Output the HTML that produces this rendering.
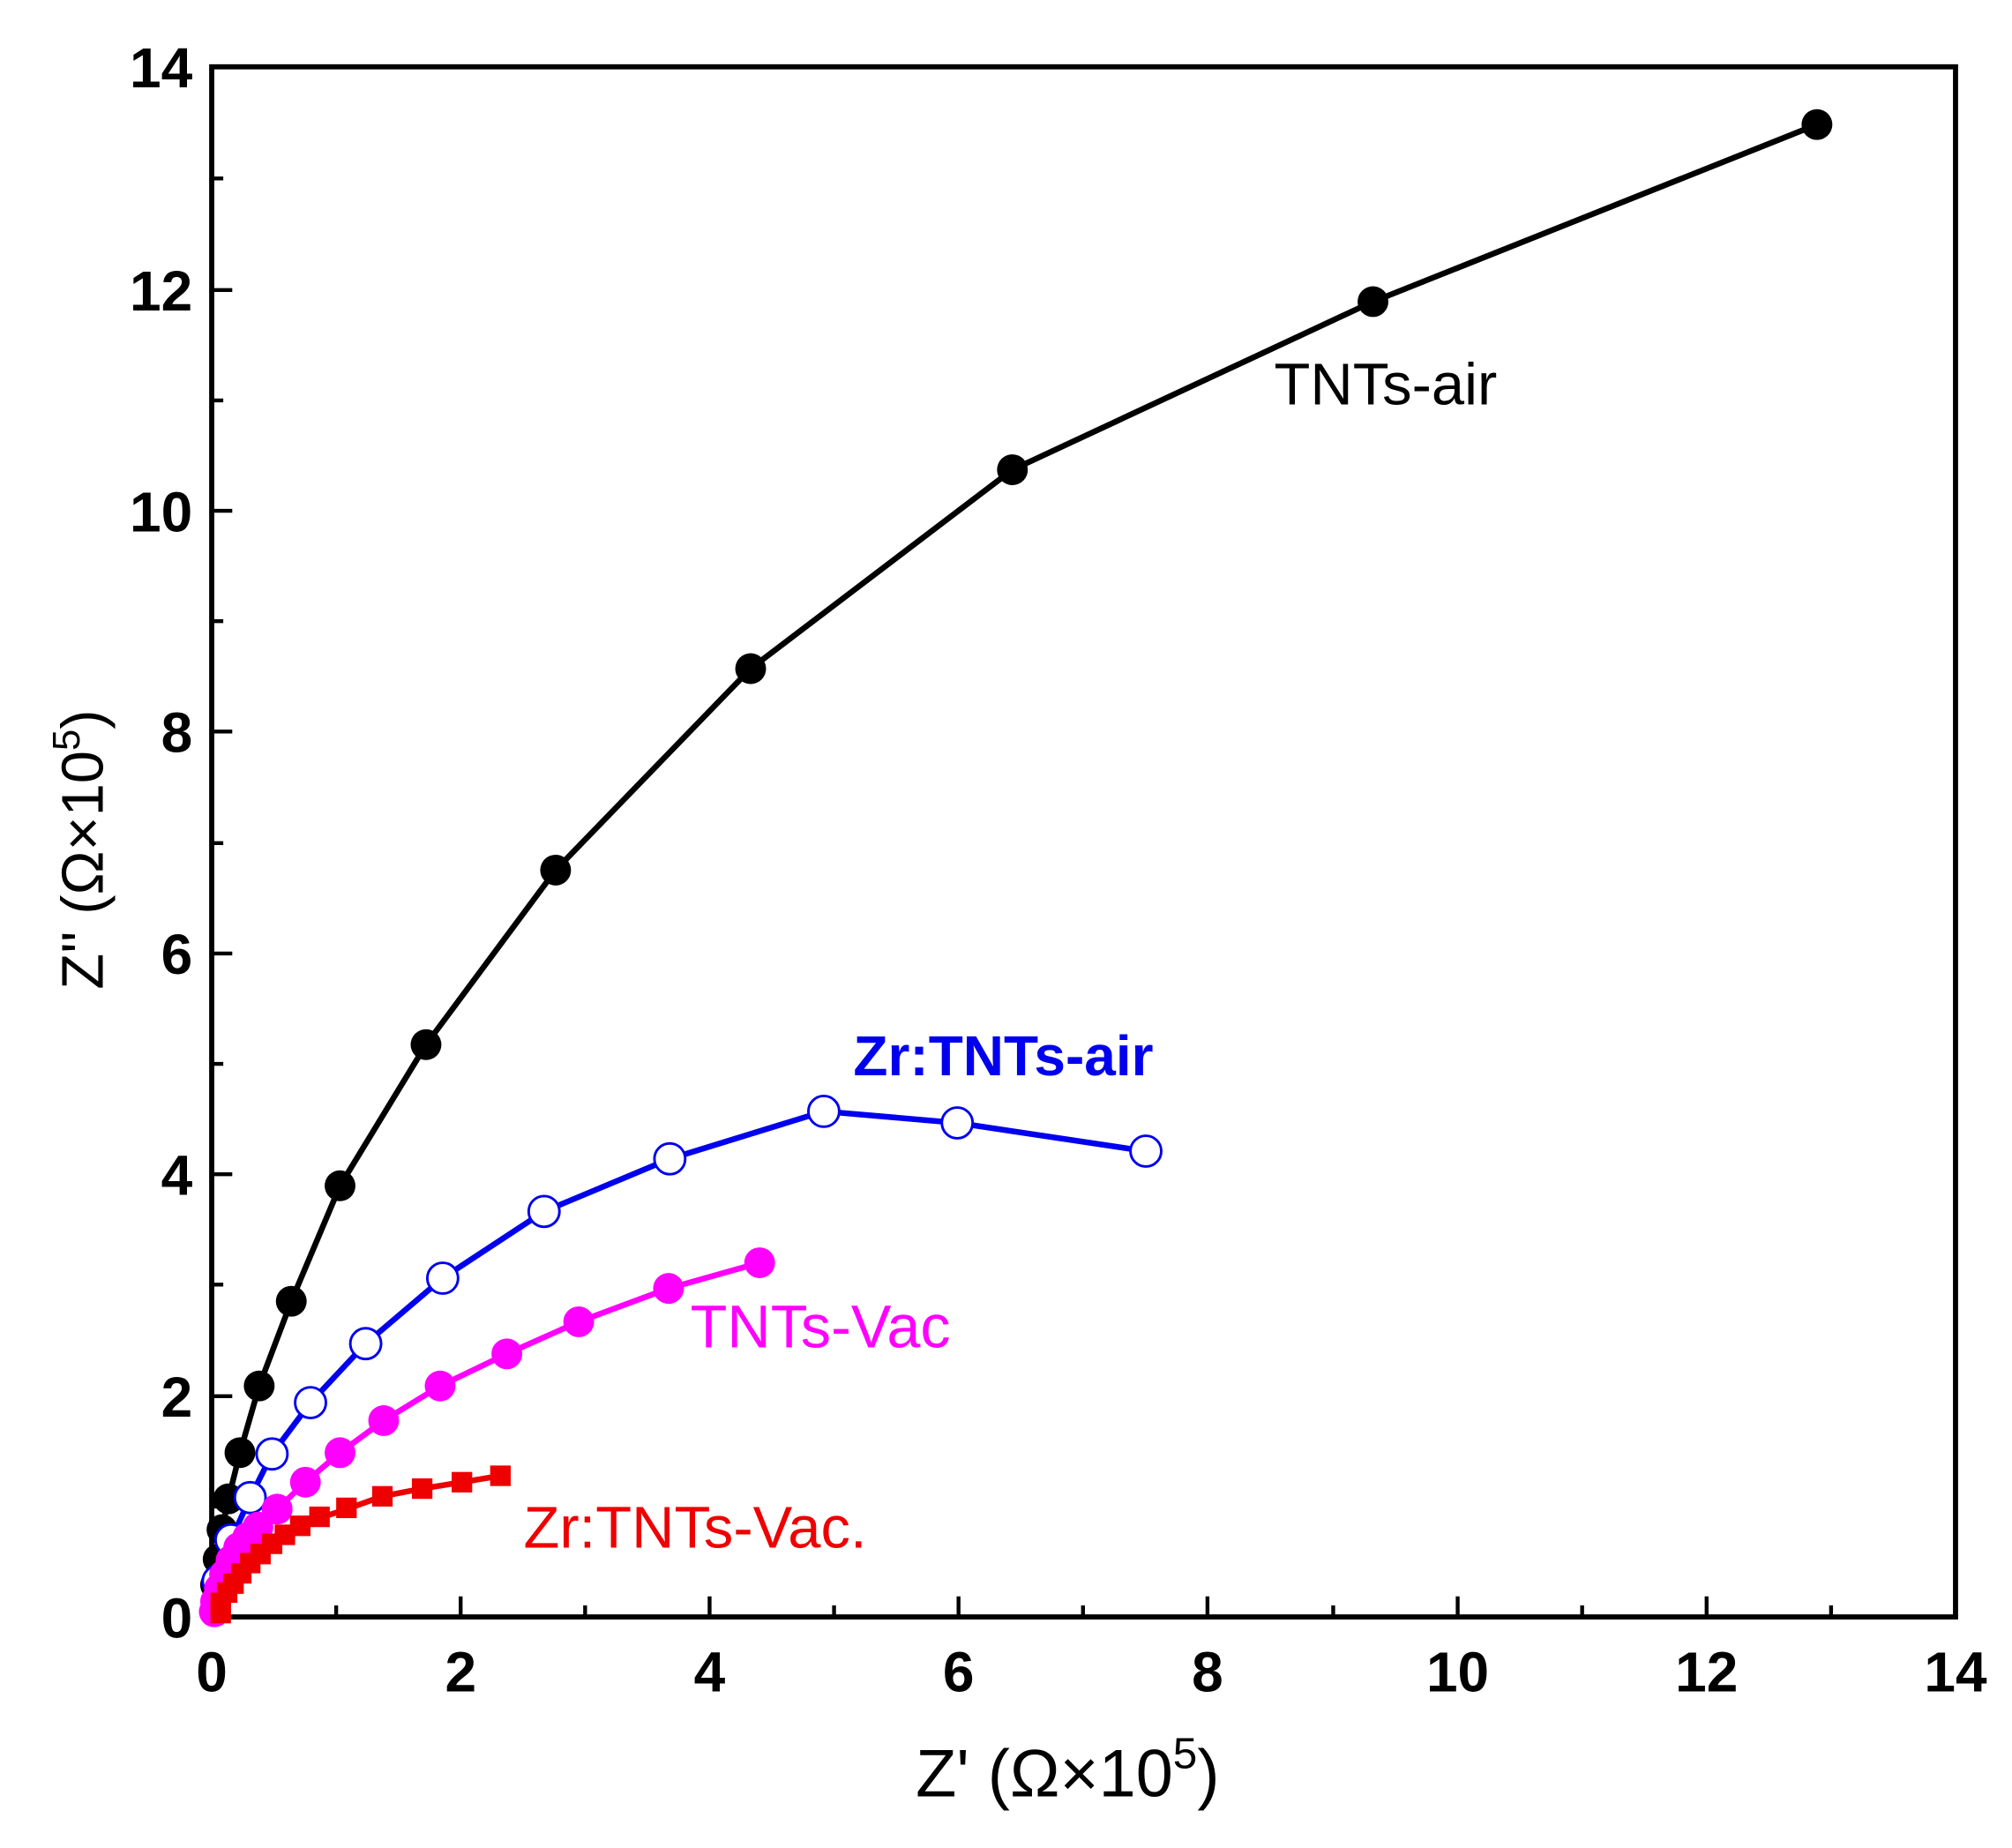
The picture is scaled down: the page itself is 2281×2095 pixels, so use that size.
<!DOCTYPE html>
<html><head><meta charset="utf-8"><style>
html,body{margin:0;padding:0;background:#fff;}
svg{display:block;}
text{font-family:"Liberation Sans",Arial,sans-serif;}
</style></head><body>
<svg width="2281" height="2095" viewBox="0 0 1568 1440" xmlns="http://www.w3.org/2000/svg">
<rect width="1568" height="1440" fill="#fff"/>
<rect x="165" y="52" width="1359" height="1208" fill="none" stroke="#000" stroke-width="4"/>
<g stroke="#000" stroke-width="3">
<path d="M359 1260v-16M553 1260v-16M747 1260v-16M941 1260v-16M1136 1260v-16M1330 1260v-16"/>
<path d="M262 1260v-9M456 1260v-9M650 1260v-9M844 1260v-9M1039 1260v-9M1233 1260v-9M1427 1260v-9"/>
<path d="M165 1088h16M165 915h16M165 743h16M165 570h16M165 398h16M165 226h16"/>
<path d="M165 1174h9M165 1001h9M165 829h9M165 657h9M165 484h9M165 312h9M165 139h9"/>
</g>
<g font-size="44" font-weight="bold" fill="#000">
<g text-anchor="middle">
<text x="165" y="1318">0</text><text x="359" y="1318">2</text><text x="553" y="1318">4</text><text x="747" y="1318">6</text><text x="941" y="1318">8</text><text x="1136" y="1318">10</text><text x="1330" y="1318">12</text><text x="1524" y="1318">14</text>
</g>
<g text-anchor="end">
<text x="150" y="1276">0</text><text x="150" y="1104">2</text><text x="150" y="931">4</text><text x="150" y="759">6</text><text x="150" y="586">8</text><text x="150" y="414">10</text><text x="150" y="242">12</text><text x="150" y="68">14</text>
</g>
</g>
<text x="832" y="1400" font-size="52" text-anchor="middle">Z' (Ω×10<tspan dy="-22" font-size="34">5</tspan><tspan dy="22">)</tspan></text>
<text transform="translate(80,662) rotate(-90)" font-size="46" text-anchor="middle">Z'' (Ω×10<tspan dy="-18" font-size="30">5</tspan><tspan dy="18">)</tspan></text>

<polyline fill="none" stroke="#000" stroke-width="4.5" points="166,1255 168,1235 170,1215 173,1192 178,1168 187,1132 202,1080 227,1014 265,924 332,814 433,678 585,521 789,366 1070,235 1416,97"/>
<g fill="#000">
<circle cx="168" cy="1235" r="12"/><circle cx="170" cy="1215" r="12"/><circle cx="173" cy="1192" r="12"/><circle cx="178" cy="1168" r="12"/><circle cx="187" cy="1132" r="12"/><circle cx="202" cy="1080" r="12"/><circle cx="227" cy="1014" r="12"/><circle cx="265" cy="924" r="12"/><circle cx="332" cy="814" r="12"/><circle cx="433" cy="678" r="12"/><circle cx="585" cy="521" r="12"/><circle cx="789" cy="366" r="12"/><circle cx="1070" cy="235" r="12"/><circle cx="1416" cy="97" r="12"/>
</g>
<polyline fill="none" stroke="#0000ee" stroke-width="4.5" points="166,1255 170,1232 180,1200 195,1167 212,1133 242,1093 285,1047 345,996 424,944 522,903 642,866 746,875 893,897"/>
<g fill="#fff" stroke="#0000ee" stroke-width="2">
<circle cx="170" cy="1232" r="12"/><circle cx="180" cy="1200" r="12"/><circle cx="195" cy="1167" r="12"/><circle cx="212" cy="1133" r="12"/><circle cx="242" cy="1093" r="12"/><circle cx="285" cy="1047" r="12"/><circle cx="345" cy="996" r="12"/><circle cx="424" cy="944" r="12"/><circle cx="522" cy="903" r="12"/><circle cx="642" cy="866" r="12"/><circle cx="746" cy="875" r="12"/><circle cx="893" cy="897" r="12"/>
</g>
<polyline fill="none" stroke="#ff00ff" stroke-width="4.5" points="166,1258 168,1248 171,1238 175,1227 180,1216 186,1206 193,1198 201,1190 216,1176 238,1155 265,1132 299,1107 343,1080 395,1055 451,1030 521,1004 592,984"/>
<g fill="#ff00ff">
<circle cx="167" cy="1256" r="12"/><circle cx="168" cy="1248" r="12"/><circle cx="171" cy="1238" r="12"/><circle cx="175" cy="1227" r="12"/><circle cx="180" cy="1216" r="12"/><circle cx="186" cy="1206" r="12"/><circle cx="193" cy="1198" r="12"/><circle cx="201" cy="1190" r="12"/><circle cx="216" cy="1176" r="12"/><circle cx="238" cy="1155" r="12"/><circle cx="265" cy="1132" r="12"/><circle cx="299" cy="1107" r="12"/><circle cx="343" cy="1080" r="12"/><circle cx="395" cy="1055" r="12"/><circle cx="451" cy="1030" r="12"/><circle cx="521" cy="1004" r="12"/><circle cx="592" cy="984" r="12"/>
</g>
<polyline fill="none" stroke="#ee0000" stroke-width="4.5" points="167,1258 172,1250 177,1242 182,1235 188,1227 195,1219 203,1212 212,1204 222,1197 234,1190 249,1183 270,1176 298,1166 329,1160 360,1155 390,1150"/>
<g fill="#ee0000">
<rect x="164" y="1249" width="16" height="16"/><rect x="164" y="1241" width="16" height="16"/><rect x="169" y="1233" width="16" height="16"/><rect x="174" y="1226" width="16" height="16"/><rect x="180" y="1218" width="16" height="16"/><rect x="187" y="1210" width="16" height="16"/><rect x="195" y="1203" width="16" height="16"/><rect x="204" y="1195" width="16" height="16"/><rect x="214" y="1188" width="16" height="16"/><rect x="226" y="1181" width="16" height="16"/><rect x="241" y="1174" width="16" height="16"/><rect x="262" y="1167" width="16" height="16"/><rect x="290" y="1158" width="16" height="16"/><rect x="321" y="1152" width="16" height="16"/><rect x="352" y="1147" width="16" height="16"/><rect x="382" y="1142" width="16" height="16"/>
</g>
<text x="993" y="315" font-size="46" fill="#000">TNTs-air</text>
<text x="665" y="838" font-size="44" font-weight="bold" fill="#0000ee">Zr:TNTs-air</text>
<text x="538" y="1050" font-size="47" fill="#ff00ff">TNTs-Vac</text>
<text x="408" y="1206" font-size="46" fill="#ee0000">Zr:TNTs-Vac.</text>
</svg>
</body></html>
